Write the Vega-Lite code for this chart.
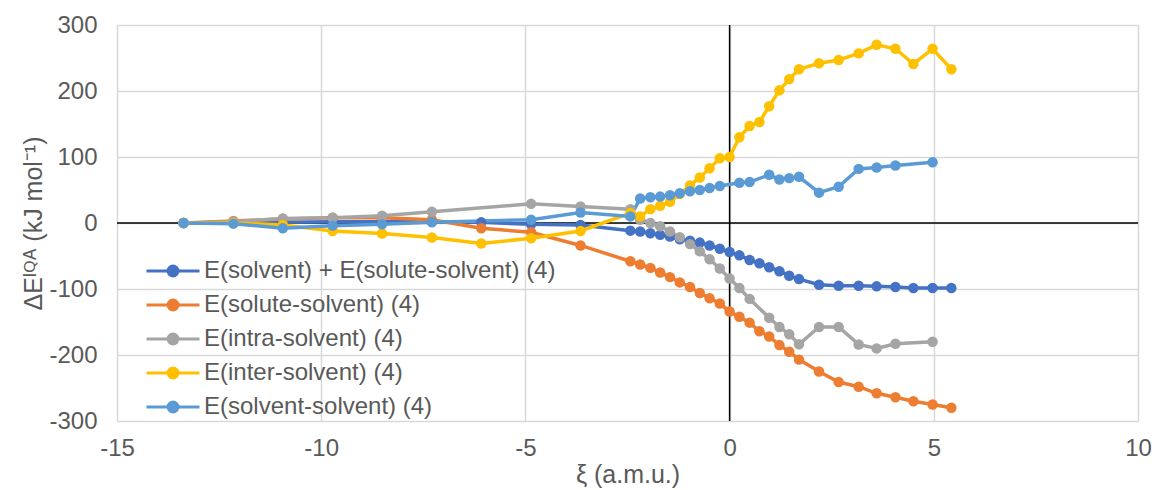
{
  "$schema": "https://vega.github.io/schema/vega-lite/v6.json",
  "autosize": {"type": "none"},
  "padding": {"left": 117, "top": 25, "right": 21, "bottom": 69},
  "width": 1021,
  "height": 396,
  "background": "white",
  "config": {
    "view": {"stroke": null},
    "font": "Liberation Sans",
    "axis": {
      "labelFont": "Liberation Sans",
      "titleFont": "Liberation Sans",
      "labelColor": "#595959",
      "titleColor": "#595959",
      "labelFontSize": 24,
      "titleFontSize": 25,
      "titleFontWeight": "normal",
      "gridColor": "#D9D9D9",
      "gridWidth": 1.5,
      "domain": false,
      "ticks": false,
      "labelFlush": false,
      "labelExpr": "'' + datum.value"
    },
    "legend": {
      "labelFont": "Liberation Sans",
      "labelColor": "#595959",
      "labelFontSize": 24
    }
  },
  "datasets": {
    "series": [
      {"s": "E(solvent) + E(solute-solvent) (4)", "x": -13.37, "y": 0},
      {"s": "E(solvent) + E(solute-solvent) (4)", "x": -12.15, "y": 1},
      {"s": "E(solvent) + E(solute-solvent) (4)", "x": -10.94, "y": 1},
      {"s": "E(solvent) + E(solute-solvent) (4)", "x": -9.72, "y": 2},
      {"s": "E(solvent) + E(solute-solvent) (4)", "x": -8.51, "y": 2},
      {"s": "E(solvent) + E(solute-solvent) (4)", "x": -7.29, "y": 2},
      {"s": "E(solvent) + E(solute-solvent) (4)", "x": -6.08, "y": 1},
      {"s": "E(solvent) + E(solute-solvent) (4)", "x": -4.86, "y": -2},
      {"s": "E(solvent) + E(solute-solvent) (4)", "x": -3.65, "y": -3},
      {"s": "E(solvent) + E(solute-solvent) (4)", "x": -2.43, "y": -11.6},
      {"s": "E(solvent) + E(solute-solvent) (4)", "x": -2.19, "y": -13},
      {"s": "E(solvent) + E(solute-solvent) (4)", "x": -1.94, "y": -15.5},
      {"s": "E(solvent) + E(solute-solvent) (4)", "x": -1.7, "y": -18},
      {"s": "E(solvent) + E(solute-solvent) (4)", "x": -1.46, "y": -20.6},
      {"s": "E(solvent) + E(solute-solvent) (4)", "x": -1.22, "y": -24.6},
      {"s": "E(solvent) + E(solute-solvent) (4)", "x": -0.97, "y": -27},
      {"s": "E(solvent) + E(solute-solvent) (4)", "x": -0.73, "y": -29.7},
      {"s": "E(solvent) + E(solute-solvent) (4)", "x": -0.49, "y": -34},
      {"s": "E(solvent) + E(solute-solvent) (4)", "x": -0.24, "y": -39},
      {"s": "E(solvent) + E(solute-solvent) (4)", "x": 0, "y": -44},
      {"s": "E(solvent) + E(solute-solvent) (4)", "x": 0.24, "y": -49},
      {"s": "E(solvent) + E(solute-solvent) (4)", "x": 0.49, "y": -56},
      {"s": "E(solvent) + E(solute-solvent) (4)", "x": 0.73, "y": -61},
      {"s": "E(solvent) + E(solute-solvent) (4)", "x": 0.97, "y": -67},
      {"s": "E(solvent) + E(solute-solvent) (4)", "x": 1.22, "y": -73},
      {"s": "E(solvent) + E(solute-solvent) (4)", "x": 1.46, "y": -80},
      {"s": "E(solvent) + E(solute-solvent) (4)", "x": 1.7, "y": -85},
      {"s": "E(solvent) + E(solute-solvent) (4)", "x": 2.19, "y": -93.5},
      {"s": "E(solvent) + E(solute-solvent) (4)", "x": 2.67, "y": -95},
      {"s": "E(solvent) + E(solute-solvent) (4)", "x": 3.16, "y": -95},
      {"s": "E(solvent) + E(solute-solvent) (4)", "x": 3.6, "y": -96},
      {"s": "E(solvent) + E(solute-solvent) (4)", "x": 4.06, "y": -97},
      {"s": "E(solvent) + E(solute-solvent) (4)", "x": 4.5, "y": -98.5},
      {"s": "E(solvent) + E(solute-solvent) (4)", "x": 4.97, "y": -98.5},
      {"s": "E(solvent) + E(solute-solvent) (4)", "x": 5.43, "y": -98.5},

      {"s": "E(solute-solvent) (4)", "x": -13.37, "y": 0},
      {"s": "E(solute-solvent) (4)", "x": -12.15, "y": 3},
      {"s": "E(solute-solvent) (4)", "x": -10.94, "y": 6},
      {"s": "E(solute-solvent) (4)", "x": -9.72, "y": 8},
      {"s": "E(solute-solvent) (4)", "x": -8.51, "y": 8},
      {"s": "E(solute-solvent) (4)", "x": -7.29, "y": 5},
      {"s": "E(solute-solvent) (4)", "x": -6.08, "y": -8},
      {"s": "E(solute-solvent) (4)", "x": -4.86, "y": -14},
      {"s": "E(solute-solvent) (4)", "x": -3.65, "y": -34},
      {"s": "E(solute-solvent) (4)", "x": -2.43, "y": -58},
      {"s": "E(solute-solvent) (4)", "x": -2.19, "y": -63},
      {"s": "E(solute-solvent) (4)", "x": -1.94, "y": -68},
      {"s": "E(solute-solvent) (4)", "x": -1.7, "y": -75},
      {"s": "E(solute-solvent) (4)", "x": -1.46, "y": -82},
      {"s": "E(solute-solvent) (4)", "x": -1.22, "y": -90},
      {"s": "E(solute-solvent) (4)", "x": -0.97, "y": -97},
      {"s": "E(solute-solvent) (4)", "x": -0.73, "y": -106},
      {"s": "E(solute-solvent) (4)", "x": -0.49, "y": -114},
      {"s": "E(solute-solvent) (4)", "x": -0.24, "y": -122},
      {"s": "E(solute-solvent) (4)", "x": 0, "y": -134},
      {"s": "E(solute-solvent) (4)", "x": 0.24, "y": -142},
      {"s": "E(solute-solvent) (4)", "x": 0.49, "y": -151},
      {"s": "E(solute-solvent) (4)", "x": 0.73, "y": -164},
      {"s": "E(solute-solvent) (4)", "x": 0.97, "y": -172},
      {"s": "E(solute-solvent) (4)", "x": 1.22, "y": -185},
      {"s": "E(solute-solvent) (4)", "x": 1.46, "y": -195},
      {"s": "E(solute-solvent) (4)", "x": 1.7, "y": -207},
      {"s": "E(solute-solvent) (4)", "x": 2.19, "y": -225},
      {"s": "E(solute-solvent) (4)", "x": 2.67, "y": -241},
      {"s": "E(solute-solvent) (4)", "x": 3.16, "y": -248},
      {"s": "E(solute-solvent) (4)", "x": 3.6, "y": -258},
      {"s": "E(solute-solvent) (4)", "x": 4.06, "y": -264},
      {"s": "E(solute-solvent) (4)", "x": 4.5, "y": -270},
      {"s": "E(solute-solvent) (4)", "x": 4.97, "y": -275},
      {"s": "E(solute-solvent) (4)", "x": 5.43, "y": -280},

      {"s": "E(intra-solvent) (4)", "x": -13.37, "y": 0},
      {"s": "E(intra-solvent) (4)", "x": -12.15, "y": 2},
      {"s": "E(intra-solvent) (4)", "x": -10.94, "y": 7},
      {"s": "E(intra-solvent) (4)", "x": -9.72, "y": 8},
      {"s": "E(intra-solvent) (4)", "x": -8.51, "y": 11},
      {"s": "E(intra-solvent) (4)", "x": -7.29, "y": 17},
      {"s": "E(intra-solvent) (4)", "x": -4.86, "y": 29},
      {"s": "E(intra-solvent) (4)", "x": -3.65, "y": 25},
      {"s": "E(intra-solvent) (4)", "x": -2.43, "y": 21},
      {"s": "E(intra-solvent) (4)", "x": -2.19, "y": 5},
      {"s": "E(intra-solvent) (4)", "x": -1.94, "y": 0},
      {"s": "E(intra-solvent) (4)", "x": -1.7, "y": -5},
      {"s": "E(intra-solvent) (4)", "x": -1.46, "y": -13},
      {"s": "E(intra-solvent) (4)", "x": -1.22, "y": -21.6},
      {"s": "E(intra-solvent) (4)", "x": -0.97, "y": -32},
      {"s": "E(intra-solvent) (4)", "x": -0.73, "y": -43},
      {"s": "E(intra-solvent) (4)", "x": -0.49, "y": -55},
      {"s": "E(intra-solvent) (4)", "x": -0.24, "y": -69},
      {"s": "E(intra-solvent) (4)", "x": 0, "y": -84},
      {"s": "E(intra-solvent) (4)", "x": 0.24, "y": -98.5},
      {"s": "E(intra-solvent) (4)", "x": 0.49, "y": -115},
      {"s": "E(intra-solvent) (4)", "x": 0.97, "y": -143.5},
      {"s": "E(intra-solvent) (4)", "x": 1.22, "y": -157.6},
      {"s": "E(intra-solvent) (4)", "x": 1.46, "y": -168.6},
      {"s": "E(intra-solvent) (4)", "x": 1.7, "y": -183.7},
      {"s": "E(intra-solvent) (4)", "x": 2.19, "y": -157.6},
      {"s": "E(intra-solvent) (4)", "x": 2.67, "y": -157.6},
      {"s": "E(intra-solvent) (4)", "x": 3.16, "y": -184},
      {"s": "E(intra-solvent) (4)", "x": 3.6, "y": -190},
      {"s": "E(intra-solvent) (4)", "x": 4.06, "y": -183},
      {"s": "E(intra-solvent) (4)", "x": 4.97, "y": -180},

      {"s": "E(inter-solvent) (4)", "x": -13.37, "y": 0},
      {"s": "E(inter-solvent) (4)", "x": -12.15, "y": 0},
      {"s": "E(inter-solvent) (4)", "x": -10.94, "y": -3},
      {"s": "E(inter-solvent) (4)", "x": -9.72, "y": -12},
      {"s": "E(inter-solvent) (4)", "x": -8.51, "y": -16},
      {"s": "E(inter-solvent) (4)", "x": -7.29, "y": -22},
      {"s": "E(inter-solvent) (4)", "x": -6.08, "y": -31},
      {"s": "E(inter-solvent) (4)", "x": -4.86, "y": -23},
      {"s": "E(inter-solvent) (4)", "x": -3.65, "y": -12},
      {"s": "E(inter-solvent) (4)", "x": -2.43, "y": 15},
      {"s": "E(inter-solvent) (4)", "x": -2.19, "y": 10},
      {"s": "E(inter-solvent) (4)", "x": -1.94, "y": 21},
      {"s": "E(inter-solvent) (4)", "x": -1.7, "y": 26},
      {"s": "E(inter-solvent) (4)", "x": -1.46, "y": 32},
      {"s": "E(inter-solvent) (4)", "x": -1.22, "y": 44},
      {"s": "E(inter-solvent) (4)", "x": -0.97, "y": 57},
      {"s": "E(inter-solvent) (4)", "x": -0.73, "y": 69},
      {"s": "E(inter-solvent) (4)", "x": -0.49, "y": 83},
      {"s": "E(inter-solvent) (4)", "x": -0.24, "y": 98},
      {"s": "E(inter-solvent) (4)", "x": 0, "y": 100},
      {"s": "E(inter-solvent) (4)", "x": 0.24, "y": 130},
      {"s": "E(inter-solvent) (4)", "x": 0.49, "y": 147},
      {"s": "E(inter-solvent) (4)", "x": 0.73, "y": 153},
      {"s": "E(inter-solvent) (4)", "x": 0.97, "y": 177},
      {"s": "E(inter-solvent) (4)", "x": 1.22, "y": 201},
      {"s": "E(inter-solvent) (4)", "x": 1.46, "y": 218},
      {"s": "E(inter-solvent) (4)", "x": 1.7, "y": 233},
      {"s": "E(inter-solvent) (4)", "x": 2.19, "y": 242},
      {"s": "E(inter-solvent) (4)", "x": 2.67, "y": 247},
      {"s": "E(inter-solvent) (4)", "x": 3.16, "y": 257},
      {"s": "E(inter-solvent) (4)", "x": 3.6, "y": 270},
      {"s": "E(inter-solvent) (4)", "x": 4.06, "y": 264},
      {"s": "E(inter-solvent) (4)", "x": 4.5, "y": 241},
      {"s": "E(inter-solvent) (4)", "x": 4.97, "y": 264},
      {"s": "E(inter-solvent) (4)", "x": 5.43, "y": 233},

      {"s": "E(solvent-solvent) (4)", "x": -13.37, "y": 0},
      {"s": "E(solvent-solvent) (4)", "x": -12.15, "y": -1},
      {"s": "E(solvent-solvent) (4)", "x": -10.94, "y": -8},
      {"s": "E(solvent-solvent) (4)", "x": -9.72, "y": -4},
      {"s": "E(solvent-solvent) (4)", "x": -8.51, "y": -2},
      {"s": "E(solvent-solvent) (4)", "x": -7.29, "y": 1},
      {"s": "E(solvent-solvent) (4)", "x": -4.86, "y": 5},
      {"s": "E(solvent-solvent) (4)", "x": -3.65, "y": 16},
      {"s": "E(solvent-solvent) (4)", "x": -2.43, "y": 10},
      {"s": "E(solvent-solvent) (4)", "x": -2.19, "y": 37},
      {"s": "E(solvent-solvent) (4)", "x": -1.94, "y": 39},
      {"s": "E(solvent-solvent) (4)", "x": -1.7, "y": 40},
      {"s": "E(solvent-solvent) (4)", "x": -1.46, "y": 42},
      {"s": "E(solvent-solvent) (4)", "x": -1.22, "y": 45},
      {"s": "E(solvent-solvent) (4)", "x": -0.97, "y": 48},
      {"s": "E(solvent-solvent) (4)", "x": -0.73, "y": 50},
      {"s": "E(solvent-solvent) (4)", "x": -0.49, "y": 53},
      {"s": "E(solvent-solvent) (4)", "x": -0.24, "y": 56},
      {"s": "E(solvent-solvent) (4)", "x": 0.24, "y": 61},
      {"s": "E(solvent-solvent) (4)", "x": 0.49, "y": 62},
      {"s": "E(solvent-solvent) (4)", "x": 0.97, "y": 73},
      {"s": "E(solvent-solvent) (4)", "x": 1.22, "y": 66},
      {"s": "E(solvent-solvent) (4)", "x": 1.46, "y": 68},
      {"s": "E(solvent-solvent) (4)", "x": 1.7, "y": 70},
      {"s": "E(solvent-solvent) (4)", "x": 2.19, "y": 46},
      {"s": "E(solvent-solvent) (4)", "x": 2.67, "y": 55},
      {"s": "E(solvent-solvent) (4)", "x": 3.16, "y": 82},
      {"s": "E(solvent-solvent) (4)", "x": 3.6, "y": 84},
      {"s": "E(solvent-solvent) (4)", "x": 4.06, "y": 87},
      {"s": "E(solvent-solvent) (4)", "x": 4.97, "y": 92}
    ],
    "zeros": [{"v": 0}]
  },
  "layer": [
    {
      "data": {"name": "zeros"},
      "mark": {"type": "rule", "color": "black", "strokeWidth": 1.5},
      "encoding": {
        "x": {"field": "v", "type": "quantitative", "scale": {"domain": [-15, 10], "nice": false}}
      }
    },
    {
      "data": {"name": "zeros"},
      "mark": {"type": "rule", "color": "black", "strokeWidth": 1.5},
      "encoding": {
        "y": {"field": "v", "type": "quantitative", "scale": {"domain": [-300, 300], "nice": false}}
      }
    },
    {
      "data": {"name": "series"},
      "mark": {"type": "line", "strokeWidth": 3.5, "point": {"filled": true, "size": 110, "opacity": 1}},
      "encoding": {
        "x": {
          "field": "x", "type": "quantitative",
          "scale": {"domain": [-15, 10], "nice": false},
          "axis": {"values": [-15, -10, -5, 0, 5, 10], "title": "ξ (a.m.u.)", "labelPadding": 15, "titlePadding": 2, "orient": "bottom"}
        },
        "y": {
          "field": "y", "type": "quantitative",
          "scale": {"domain": [-300, 300], "nice": false},
          "axis": {"values": [-300, -200, -100, 0, 100, 200, 300], "title": "ΔEᴵꟴᴬ (kJ mol⁻¹)", "labelPadding": 20, "titlePadding": 2}
        },
        "color": {
          "field": "s", "type": "nominal",
          "scale": {
            "domain": ["E(solvent) + E(solute-solvent) (4)", "E(solute-solvent) (4)", "E(intra-solvent) (4)", "E(inter-solvent) (4)", "E(solvent-solvent) (4)"],
            "range": ["#4472C4", "#ED7D31", "#A5A5A5", "#FFC000", "#5B9BD5"]
          },
          "legend": {
            "title": null,
            "orient": "none",
            "legendX": 44,
            "legendY": 234,
            "direction": "vertical",
            "symbolType": "M-5.3,0L5.3,0M1,0A1,1,0,1,1,-1,0A1,1,0,1,1,1,0Z",
            "symbolSize": 100,
            "symbolStrokeWidth": 3,
            "labelOffset": 19,
            "rowPadding": 10,
            "labelLimit": 600,
            "encode": {
              "symbols": {"update": {"fill": {"scale": "color", "field": "value"}, "stroke": {"scale": "color", "field": "value"}, "opacity": {"value": 1}}}
            }
          }
        }
      }
    }
  ]
}
